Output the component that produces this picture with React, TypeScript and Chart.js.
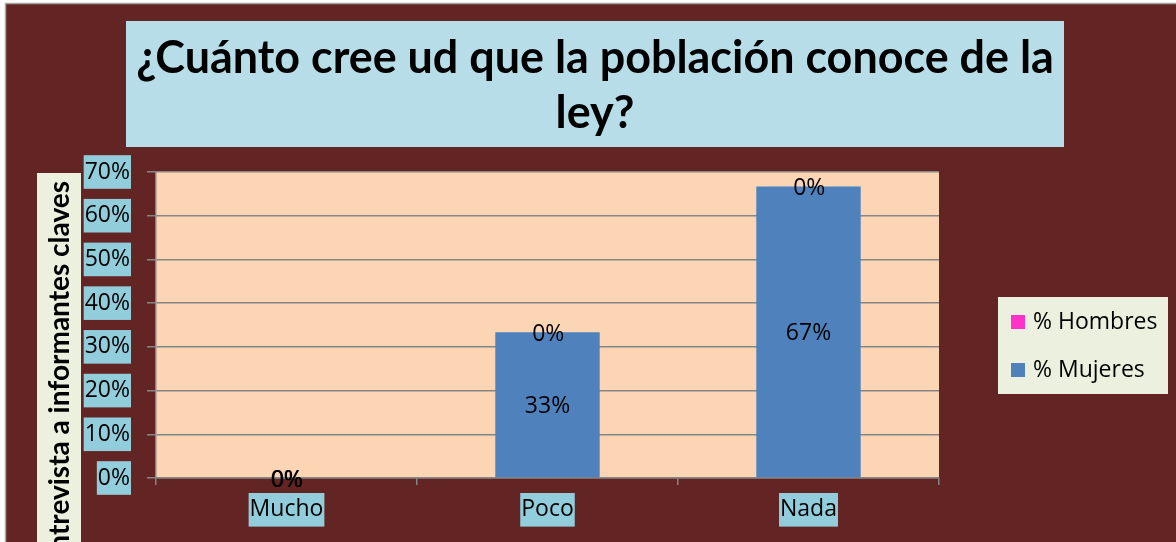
import React, { useEffect, useRef } from "react";
import { Chart, registerables } from "chart.js";

Chart.register(...registerables);

const categories = ["Mucho", "Poco", "Nada"];
const mujeresValues = [0, 33.33, 66.67];
const hombresValues = [0, 0, 0];
const mujeresLabel = "% Mujeres";
const hombresLabel = "% Hombres";
const titleLines = ["¿Cuánto cree ud que la población conoce de la", "ley?"];
const yAxisTitle = "Entrevista a informantes claves";
const yMin = 0;
const yMax = 70;
const yStep = 10;

const MAROON = "#632523";
const TITLE_BG = "#B7DEE8";
const PLOT_BG = "#FCD5B5";
const TICK_BG = "#92CDDC";
const BOX_BG = "#EBF1DE";
const GRID = "#868686";
const BLUE = "#4F81BD";
const PINK = "#FF33CC";
const FONT = "'Open Sans', 'Noto Sans', sans-serif";
const TITLE_FONT = "Lato, 'Open Sans', sans-serif";

const decorPlugin = {
  id: "decor",
  beforeDraw(chart: any) {
    const { ctx, width, height, chartArea } = chart;
    ctx.save();
    ctx.fillStyle = "#FFFFFF";
    ctx.fillRect(0, 0, width, height);
    ctx.fillStyle = MAROON;
    ctx.fillRect(6, 4, width - 6, height - 4);
    ctx.strokeStyle = "#A6A6A6";
    ctx.lineWidth = 1.5;
    ctx.beginPath();
    ctx.moveTo(5.5, height);
    ctx.lineTo(5.5, 3.5);
    ctx.lineTo(width, 3.5);
    ctx.stroke();

    // title box
    ctx.fillStyle = TITLE_BG;
    ctx.fillRect(126, 21, 938, 126);
    let size = 44;
    ctx.font = `bold ${size}px ${TITLE_FONT}`;
    const w = ctx.measureText(titleLines[0]).width;
    size = (size * 918) / w;
    ctx.font = `bold ${size}px ${TITLE_FONT}`;
    ctx.fillStyle = "#000";
    ctx.textAlign = "center";
    ctx.textBaseline = "alphabetic";
    ctx.fillText(titleLines[0], 595, 73);
    ctx.fillText(titleLines[1], 595, 128);

    // plot area
    ctx.fillStyle = PLOT_BG;
    ctx.fillRect(chartArea.left, chartArea.top, chartArea.right - chartArea.left, chartArea.bottom - chartArea.top);

    // y axis title box
    ctx.fillStyle = BOX_BG;
    ctx.fillRect(37, 173, 44, height - 173);
    ctx.translate(60, 181);
    ctx.rotate(-Math.PI / 2);
    ctx.font = `bold 28px ${TITLE_FONT}`;
    ctx.fillStyle = "#000";
    ctx.textAlign = "right";
    ctx.textBaseline = "middle";
    ctx.fillText(yAxisTitle, 0, 0);
    ctx.restore();
  },
  afterDatasetsDraw(chart: any) {
    const { ctx } = chart;
    ctx.save();
    ctx.font = `23px ${FONT}`;
    ctx.fillStyle = "#000";
    ctx.textAlign = "center";
    ctx.textBaseline = "middle";
    chart.data.datasets.forEach((ds: any, i: number) => {
      const meta = chart.getDatasetMeta(i);
      meta.data.forEach((el: any, j: number) => {
        const p = el.getCenterPoint();
        const v = ds.data[j];
        ctx.fillText(Math.round(v) + "%", p.x + (i === 1 ? 0.8 : 0), p.y + 2);
      });
    });
    ctx.restore();
  },
  afterDraw(chart: any) {
    const { ctx } = chart;
    ctx.save();
    ctx.fillStyle = BOX_BG;
    ctx.fillRect(998, 297, 170, 97);
    const items = chart.data.datasets.slice().reverse();
    items.forEach((ds: any, k: number) => {
      const cy = 322 + k * 48;
      ctx.fillStyle = ds.backgroundColor;
      ctx.fillRect(1011, cy - 7, 14, 14);
      ctx.fillStyle = "#000";
      ctx.font = `23px ${FONT}`;
      ctx.textAlign = "left";
      ctx.textBaseline = "middle";
      ctx.fillText(ds.label, 1033, cy);
    });
    ctx.restore();
  },
};

export default function App() {
  const ref = useRef<HTMLCanvasElement | null>(null);
  useEffect(() => {
    document.body.style.margin = "0";
    const canvas = ref.current;
    if (!canvas) return;
    const tickFont = { family: FONT, size: 23 };
    const chart = new Chart(canvas, {
      type: "bar",
      data: {
        labels: categories,
        datasets: [
          {
            label: mujeresLabel,
            data: mujeresValues,
            backgroundColor: BLUE,
            borderWidth: 0,
            barPercentage: 0.4,
            categoryPercentage: 1,
          },
          {
            label: hombresLabel,
            data: hombresValues,
            backgroundColor: PINK,
            borderWidth: 0,
            barPercentage: 0.4,
            categoryPercentage: 1,
          },
        ],
      },
      options: {
        responsive: false,
        animation: false,
        devicePixelRatio: 1,
        layout: { padding: { left: 0, right: 237, top: 172, bottom: 0 } },
        plugins: {
          legend: { display: false },
          title: { display: false },
          tooltip: { enabled: false },
        },
        scales: {
          x: {
            stacked: true,
            afterFit: (s: any) => {
              s.height = 64;
            },
            grid: {
              display: true,
              drawOnChartArea: false,
              drawTicks: true,
              tickLength: 7,
              color: GRID,
              lineWidth: 1.5,
              offset: true,
            },
            border: { display: true, color: GRID, width: 1.5 },
            ticks: {
              font: tickFont,
              color: "#000",
              padding: 11,
              showLabelBackdrop: true,
              backdropColor: TICK_BG,
              backdropPadding: { top: 3, bottom: 3, left: 1, right: 1 },
              maxRotation: 0,
            },
          },
          y: {
            stacked: true,
            min: yMin,
            max: yMax,
            afterFit: (s: any) => {
              s.width = 156;
            },
            grid: {
              color: GRID,
              lineWidth: 1.5,
              tickLength: 9,
              drawTicks: true,
            },
            border: { display: true, color: GRID, width: 1.5 },
            ticks: {
              stepSize: yStep,
              font: tickFont,
              color: "#000",
              padding: 17,
              showLabelBackdrop: true,
              backdropColor: TICK_BG,
              backdropPadding: { top: 3, bottom: 3, left: 1, right: 1 },
              callback: (v: any) => v + "%",
            },
          },
        },
      },
      plugins: [decorPlugin],
    });
    return () => chart.destroy();
  }, []);
  return (
    <div style={{ position: "fixed", left: 0, top: 0, width: 1176, height: 542 }}>
      <canvas ref={ref} width={1176} height={542} style={{ display: "block", width: 1176, height: 542 }} />
    </div>
  );
}
